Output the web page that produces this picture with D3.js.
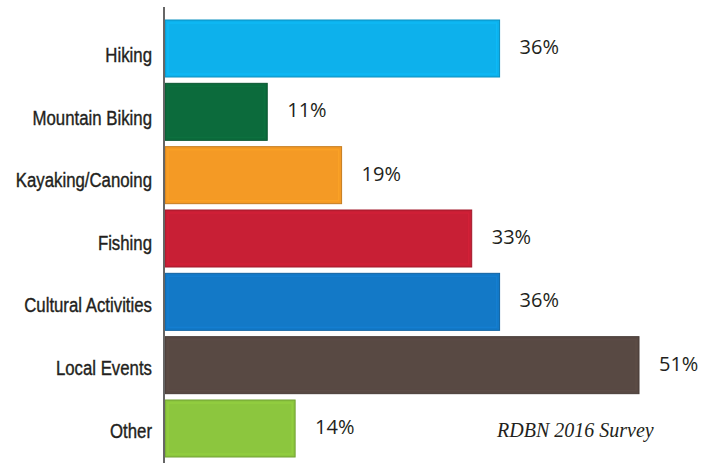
<!DOCTYPE html>
<html>
<head>
<meta charset="utf-8">
<script src="https://cdn.jsdelivr.net/npm/d3@7"></script>
<style>
  html, body { margin: 0; padding: 0; background: #fff; }
  svg { display: block; }
</style>
</head>
<body>
<svg id="chart" width="706" height="463"></svg>
<script>
// Share of respondents taking part in each activity
const categories = ["Hiking", "Mountain Biking", "Kayaking/Canoing", "Fishing", "Cultural Activities", "Local Events", "Other"];
const values = [36, 11, 19, 33, 36, 51, 14];
const valueLabels = ["36%", "11%", "19%", "33%", "36%", "51%", "14%"];
const colors = ["#0db1ec", "#0c6b3c", "#f49a25", "#c81f35", "#1379c7", "#584943", "#8cc63e"];
const sourceNote = "RDBN 2016 Survey";

const svg = d3.select("#chart");

const axisX = 164;
const x = d3.scaleLinear().domain([0, 51]).range([axisX + 1, 639]);
const y = d3.scaleBand().domain(categories).range([20, 457]).paddingInner(0.1).paddingOuter(0);
// category names sit on a slightly tighter rhythm than the bars
const labelY = d3.scalePoint().domain(categories).range([54.5, 430]);

const rows = categories.map((c, i) => ({ cat: c, v: values[i], label: valueLabels[i], color: colors[i] }));

// bars with a thin darker rim
svg.append("g").selectAll("rect")
  .data(rows)
  .join("rect")
  .attr("x", x(0))
  .attr("y", d => y(d.cat))
  .attr("width", d => x(d.v) - x(0))
  .attr("height", y.bandwidth())
  .attr("fill", d => d.color)
  .attr("stroke", d => d3.color(d.color).darker(0.6))
  .attr("stroke-width", 1);

// inner highlight bands for the glossy look
svg.append("g").selectAll("rect")
  .data(rows)
  .join("rect")
  .attr("x", x(0) + 3)
  .attr("y", d => y(d.cat) + 3)
  .attr("width", d => Math.max(0, x(d.v) - x(0) - 6))
  .attr("height", y.bandwidth() - 6)
  .attr("fill", "none")
  .attr("stroke", d => d3.color(d.color).brighter(0.25))
  .attr("stroke-opacity", 0.5)
  .attr("stroke-width", 1.5);

// vertical axis line
svg.append("line")
  .attr("x1", axisX).attr("x2", axisX)
  .attr("y1", 7).attr("y2", 463)
  .attr("stroke", "#666")
  .attr("stroke-width", 2);

// category names, horizontally condensed and slightly heavier
svg.append("g").selectAll("text")
  .data(rows)
  .join("text")
  .attr("transform", d => `translate(152,${labelY(d.cat) + 7.5}) scale(0.8,1)`)
  .attr("text-anchor", "end")
  .attr("font-family", "'Liberation Sans', Arial, sans-serif")
  .attr("font-size", 21)
  .attr("fill", "#231f20")
  .attr("stroke", "#231f20")
  .attr("stroke-width", 0.4)
  .text(d => d.cat);

// value labels
svg.append("g").selectAll("text")
  .data(rows)
  .join("text")
  .attr("x", d => x(d.v) + 20)
  .attr("y", d => y(d.cat) + y.bandwidth() / 2 + 5.5)
  .attr("font-family", "'Open Sans', 'Noto Sans', sans-serif")
  .attr("font-size", 20)
  .attr("fill", "#231f20")
  .text(d => d.label);

// source note
svg.append("text")
  .attr("x", 497)
  .attr("y", 437)
  .attr("font-family", "'Liberation Serif', 'DejaVu Serif', serif")
  .attr("font-style", "italic")
  .attr("font-size", 20)
  .attr("fill", "#231f20")
  .text(sourceNote);
</script>
</body>
</html>
